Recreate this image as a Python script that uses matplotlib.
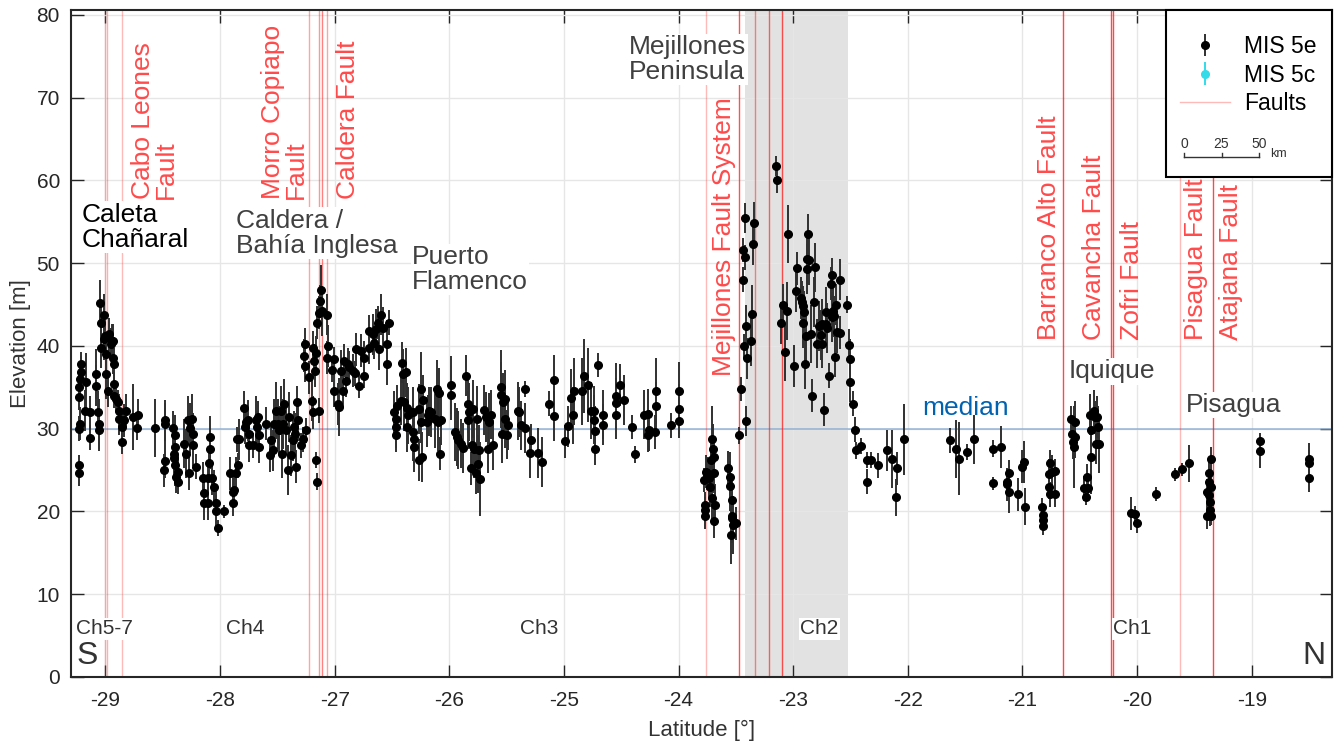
import matplotlib.pyplot as plt
from matplotlib.lines import Line2D
from matplotlib.patches import Rectangle

plt.rcParams['font.family'] = ['Liberation Sans', 'DejaVu Sans']
plt.rcParams['axes.unicode_minus'] = False

# MIS 5e terrace elevations along the coast, south to north
# Chañaral (Ch5-7)
lat_chanaral = [-29.227, -29.227, -29.218, -29.212, -29.212, -29.227, -29.218, -29.227, -29.227,
                -29.169, -29.174, -29.134, -29.134, -29.081, -29.081, -29.067, -29.058, -29.058,
                -29.044, -29.038, -29.015, -29.038, -29.015, -29.000, -28.994, -28.994, -28.980,
                -28.965, -28.951, -28.942, -28.936, -28.922, -28.936, -28.907, -28.922, -28.922,
                -28.892, -28.878, -28.878, -28.855, -28.855, -28.820, -28.834, -28.756, -28.718,
                -28.727]
elev_chanaral = [33.8, 35.0, 36.0, 37.8, 36.8, 30.0, 30.6, 25.6, 24.6,
                 35.6, 32.2, 32.0, 28.9, 36.6, 35.2, 32.0, 30.6, 29.8,
                 45.2, 42.8, 43.8, 39.8, 40.8, 41.2, 39.0, 36.6, 34.6,
                 41.4, 40.2, 40.6, 38.6, 37.8, 40.6, 33.6, 34.0, 35.4,
                 33.2, 32.2, 31.2, 30.2, 28.4, 32.2, 31.0, 31.4, 31.6,
                 30.1]
err_chanaral = [1.5, 1.5, 2.0, 1.5, 2.0, 1.5, 2.0, 1.2, 1.5,
                3.5, 2.5, 2.0, 1.5, 3.0, 2.5, 2.5, 3.0, 2.5,
                2.8, 2.5, 2.5, 2.5, 2.5, 2.0, 2.5, 3.0, 2.0,
                2.0, 2.0, 2.0, 2.0, 2.0, 2.0, 1.5, 1.5, 1.5,
                1.5, 2.0, 2.0, 2.0, 1.5, 2.0, 2.0, 4.0, 2.0,
                1.5]

# Ch4
lat_ch4 = [-28.567, -28.480, -28.480, -28.480, -28.491, -28.413, -28.390, -28.390, -28.398,
           -28.390, -28.384, -28.369, -28.369, -28.398, -28.311, -28.297, -28.282, -28.268,
           -28.262, -28.244, -28.239, -28.233, -28.210, -28.146, -28.137, -28.137, -28.108,
           -28.108, -28.099, -28.087, -28.087, -28.070, -28.050, -28.035, -28.035, -28.015,
           -27.968, -27.910, -27.890, -27.890, -27.881, -27.861, -27.846, -27.855, -27.832,
           -27.788, -27.779, -27.774, -27.759, -27.750, -27.745, -27.715, -27.686, -27.672,
           -27.681, -27.663, -27.657, -27.599, -27.564, -27.555, -27.541, -27.527, -27.512,
           -27.498, -27.483, -27.468, -27.460, -27.454, -27.439, -27.425, -27.410, -27.402,
           -27.381, -27.367, -27.352, -27.344, -27.338, -27.329, -27.323, -27.294, -27.280,
           -27.250]
elev_ch4 = [30.1, 31.0, 30.6, 26.1, 25.0, 30.1, 29.2, 27.8, 26.5,
            25.6, 24.2, 23.6, 24.8, 27.0, 28.2, 27.0, 31.0, 24.6,
            30.1, 31.2, 28.0, 29.4, 25.4, 24.0, 22.2, 21.0, 24.0,
            21.0, 25.8, 29.0, 27.6, 24.0, 23.0, 21.0, 20.0, 18.0,
            20.0, 24.6, 22.4, 21.0, 22.6, 24.6, 25.6, 28.7, 28.7,
            32.5, 30.2, 30.8, 31.0, 28.0, 29.4, 28.0, 31.0, 31.4,
            30.2, 27.8, 29.2, 30.6, 26.8, 28.6, 27.4, 30.6, 32.2,
            30.6, 29.8, 32.2, 27.0, 30.6, 33.0, 29.8, 25.0, 31.4,
            26.8, 28.6, 30.2, 29.4, 25.4, 33.2, 31.0, 28.0, 28.7,
            29.8]
err_ch4 = [3.5, 2.5, 2.5, 2.0, 2.0, 2.0, 2.5, 2.5, 2.5,
           2.5, 2.0, 1.5, 2.0, 2.5, 3.0, 3.0, 3.0, 2.0,
           3.0, 3.0, 2.5, 2.5, 1.5, 2.0, 2.0, 2.0, 2.0,
           2.0, 2.0, 2.5, 2.5, 2.0, 2.0, 1.5, 2.0, 1.0,
           0.8, 2.0, 2.0, 1.5, 2.0, 2.0, 1.5, 1.5, 2.5,
           2.0, 2.0, 2.0, 2.5, 2.0, 2.0, 1.5, 3.0, 2.0,
           2.0, 2.0, 2.0, 2.0, 2.0, 2.0, 2.5, 3.0, 3.5,
           3.0, 3.0, 3.0, 3.0, 3.0, 3.0, 3.0, 3.0, 3.0,
           2.5, 2.5, 2.0, 2.5, 2.0, 2.0, 2.5, 1.5, 1.5,
           1.5]

# Caldera / Bahía Inglesa and Puerto Flamenco
lat_caldera = [-27.256, -27.265, -27.256, -27.221, -27.198, -27.192, -27.187, -27.178, -27.169,
               -27.163, -27.157, -27.163, -27.157, -27.134, -27.134, -27.126, -27.120, -27.111,
               -27.070, -27.062, -27.070, -27.024, -27.003, -27.003, -26.974, -26.966, -26.945,
               -26.931, -26.916, -26.902, -26.887, -26.873, -26.844, -26.820, -26.815, -26.786,
               -26.771, -26.748, -26.742, -26.704, -26.704, -26.663, -26.655, -26.640, -26.626,
               -26.611, -26.597, -26.582, -26.547, -26.544, -26.530]
elev_caldera = [40.2, 38.8, 37.6, 36.2, 33.4, 32.0, 39.8, 38.2, 37.0,
                39.2, 42.8, 26.2, 23.6, 32.2, 44.0, 45.4, 46.8, 44.2,
                43.8, 40.0, 38.6, 37.1, 38.4, 34.6, 33.0, 32.6, 37.0,
                34.6, 38.2, 35.8, 37.8, 37.4, 37.0, 36.7, 39.6, 35.2,
                39.4, 38.6, 36.4, 41.8, 39.8, 41.4, 40.4, 42.0, 42.8,
                39.6, 43.8, 42.2, 40.2, 37.8, 42.8]
err_caldera = [2.0, 2.0, 2.0, 2.0, 2.5, 2.0, 2.0, 2.0, 2.0,
               2.0, 2.0, 1.0, 1.0, 1.5, 2.0, 2.0, 3.0, 3.0,
               2.5, 2.5, 2.0, 1.5, 1.5, 2.0, 2.5, 3.5, 2.5,
               2.0, 2.0, 2.0, 2.0, 2.0, 2.0, 1.5, 2.0, 1.5,
               2.0, 2.0, 1.5, 2.0, 2.0, 2.5, 2.0, 2.5, 2.0,
               2.5, 2.5, 2.5, 3.0, 2.5, 1.5]

# Ch3
lat_ch3 = [-26.481, -26.466, -26.466, -26.466, -26.452, -26.423, -26.414, -26.408, -26.394,
           -26.379, -26.365, -26.365, -26.356, -26.321, -26.315, -26.306, -26.306,
           -26.247, -26.227, -26.262, -26.247, -26.239, -26.262, -26.198, -26.189, -26.175,
           -26.160, -26.122, -26.111, -26.093, -26.102, -26.073, -26.082, -25.986, -25.986,
           -25.948, -25.937, -25.928, -25.899, -25.884, -25.855, -25.841, -25.841, -25.826,
           -25.812, -25.803, -25.791, -25.782, -25.768, -25.762, -25.753, -25.745, -25.733,
           -25.695, -25.681, -25.666, -25.652, -25.637, -25.623, -25.550, -25.550, -25.541,
           -25.535, -25.512, -25.512, -25.501, -25.492, -25.405, -25.390, -25.376, -25.338,
           -25.338, -25.288, -25.297, -25.222, -25.187, -25.134, -25.091, -25.091, -24.992,
           -24.963, -24.940, -24.925, -24.911, -24.844, -24.824, -24.794, -24.765, -24.736,
           -24.736, -24.730, -24.728, -24.699, -24.655, -24.655, -24.547, -24.547, -24.547,
           -24.507, -24.472, -24.402, -24.379, -24.300, -24.263, -24.271, -24.257, -24.205,
           -24.199, -24.193, -24.068, -23.995, -23.995, -24.000]
elev_ch3 = [32.0, 31.2, 30.2, 29.2, 32.8, 33.4, 38.0, 36.6, 33.2,
            36.8, 32.5, 30.2, 31.6, 32.0, 29.6, 28.8, 27.8,
            34.8, 33.5, 32.4, 30.8, 26.6, 26.2, 30.8, 31.6, 32.1,
            32.0, 31.2, 34.8, 34.3, 30.8, 31.0, 27.0, 35.3, 34.1,
            29.6, 29.0, 28.6, 28.2, 27.7, 36.4, 33.0, 31.0, 32.0,
            25.2, 28.0, 32.4, 27.6, 24.6, 31.2, 25.7, 27.4, 23.9,
            32.3, 31.4, 27.6, 30.8, 31.7, 28.0, 35.0, 34.1, 29.4,
            33.2, 33.6, 31.2, 29.3, 30.4, 32.1, 32.0, 30.4, 34.8,
            30.1, 28.6, 27.1, 27.1, 26.0, 33.0, 35.9, 31.5, 28.5,
            30.3, 33.7, 31.6, 34.5, 34.5, 36.4, 35.3, 32.2, 32.2,
            31.1, 29.7, 27.6, 37.7, 31.7, 30.5, 34.0, 33.1, 31.7,
            35.3, 33.5, 30.2, 26.9, 31.7, 31.8, 29.2, 29.8, 29.6,
            34.6, 32.7, 30.4, 34.6, 32.4, 30.9]
err_ch3 = [2.5, 2.0, 2.5, 2.0, 2.5, 3.0, 2.5, 3.0, 3.5,
           3.0, 3.0, 3.0, 3.5, 3.0, 3.5, 3.0, 3.0,
           4.5, 3.0, 3.0, 2.5, 3.0, 2.5, 3.0, 2.5, 3.0,
           3.0, 3.5, 3.5, 3.0, 3.5, 3.0, 2.0, 3.5, 3.0,
           3.5, 3.5, 3.5, 3.0, 3.0, 2.5, 3.5, 3.5, 3.5,
           2.0, 3.5, 3.5, 3.5, 2.5, 4.0, 3.5, 3.0, 4.5,
           3.0, 3.0, 3.0, 3.5, 3.0, 3.0, 4.5, 4.0, 3.5,
           3.5, 3.5, 3.5, 3.0, 3.0, 3.5, 3.0, 3.0, 1.0,
           3.0, 2.0, 3.0, 3.0, 3.0, 1.5, 3.0, 3.0, 2.0,
           2.5, 3.5, 3.5, 4.0, 4.0, 4.5, 4.5, 3.5, 3.0,
           3.0, 3.0, 2.0, 1.5, 3.0, 2.5, 4.0, 3.0, 3.0,
           2.5, 3.0, 1.5, 1.0, 3.0, 3.0, 2.0, 2.5, 2.0,
           4.0, 3.0, 1.5, 3.5, 3.0, 2.0]

# Mejillones Peninsula (Ch2)
lat_mejillones = [-23.777, -23.763, -23.769, -23.769, -23.769, -23.748, -23.734, -23.728, -23.719,
                  -23.710, -23.705, -23.699, -23.690, -23.690, -23.681, -23.690, -23.565, -23.551,
                  -23.553, -23.536, -23.530, -23.536, -23.542, -23.521, -23.501, -23.472, -23.452,
                  -23.437, -23.434, -23.423, -23.420, -23.428, -23.408, -23.408, -23.402, -23.370,
                  -23.362, -23.347, -23.341, -23.147, -23.144, -23.109, -23.088, -23.071, -23.051,
                  -23.042, -22.993, -22.978, -22.963, -22.934, -22.926, -22.914, -22.905, -22.914,
                  -22.897, -22.891, -22.876, -22.876, -22.868, -22.862, -22.847, -22.839, -22.818,
                  -22.812, -22.789, -22.775, -22.760, -22.751, -22.746, -22.731, -22.716, -22.711,
                  -22.702, -22.687, -22.673, -22.664, -22.658, -22.653, -22.644, -22.635, -22.629,
                  -22.615, -22.594, -22.592, -22.528, -22.513, -22.504, -22.507, -22.478, -22.464,
                  -22.455, -22.406, -22.359, -22.353]
elev_mejillones = [23.8, 24.8, 20.8, 20.2, 19.4, 24.6, 24.0, 23.0, 26.2,
                   21.6, 28.7, 27.6, 26.6, 24.7, 20.8, 18.8, 25.3, 24.2,
                   23.1, 21.4, 19.4, 19.2, 17.1, 18.4, 18.6, 29.2, 34.8,
                   48.0, 51.6, 50.7, 55.5, 40.0, 30.9, 42.4, 38.5, 40.6,
                   43.9, 52.3, 54.9, 61.7, 60.0, 42.8, 45.0, 39.3, 44.2,
                   53.5, 37.6, 46.6, 49.4, 45.8, 45.3, 44.8, 44.1, 42.8,
                   37.8, 41.2, 50.5, 49.3, 53.5, 50.4, 41.4, 34.0, 45.3,
                   49.5, 40.3, 42.4, 41.3, 40.3, 42.7, 32.3, 42.6, 44.1,
                   42.2, 36.4, 47.5, 48.6, 43.5, 44.2, 43.6, 38.7, 45.0,
                   41.7, 41.6, 48.0, 45.0, 40.1, 38.4, 35.7, 33.0, 29.9,
                   27.4, 27.9, 26.2, 23.6]
err_mejillones = [1.5, 2.0, 1.5, 1.5, 1.5, 2.0, 2.5, 2.5, 2.5,
                  3.0, 4.0, 3.0, 2.5, 2.5, 2.5, 2.0, 2.0, 3.0,
                  3.0, 3.0, 3.0, 3.0, 3.5, 3.5, 2.0, 1.0, 1.5,
                  1.5, 1.5, 1.5, 1.8, 1.5, 1.8, 2.5, 2.5, 3.0,
                  3.5, 2.5, 2.5, 1.2, 1.5, 2.5, 2.5, 3.5, 3.5,
                  3.5, 2.5, 2.5, 2.0, 2.5, 2.5, 2.5, 2.5, 3.0,
                  3.0, 3.0, 3.0, 3.0, 2.5, 3.0, 3.5, 2.0, 3.0,
                  3.0, 3.0, 3.0, 3.0, 3.0, 3.0, 2.0, 2.5, 3.0,
                  3.0, 1.5, 2.0, 2.0, 3.0, 3.0, 2.5, 2.5, 2.5,
                  2.5, 2.0, 2.5, 1.0, 2.0, 2.5, 2.5, 1.5, 1.5,
                  1.0, 1.0, 1.0, 1.5]

# Iquique and Pisagua (Ch1)
lat_north = [-22.325, -22.258, -22.180, -22.136, -22.098, -22.101, -22.034, -21.628, -21.578,
             -21.555, -21.482, -21.424, -21.259, -21.259, -21.186, -21.139, -21.134, -21.119,
             -21.119, -21.038, -21.003, -20.988, -20.979, -20.828, -20.823, -20.820, -20.820,
             -20.756, -20.770, -20.741, -20.718, -20.765, -20.756, -20.718, -20.573, -20.567,
             -20.561, -20.552, -20.538, -20.538, -20.465, -20.445, -20.436, -20.427, -20.407,
             -20.398, -20.398, -20.378, -20.369, -20.363, -20.349, -20.340, -20.334, -20.050,
             -20.021, -19.997, -19.832, -19.672, -19.608, -19.547, -19.390, -19.390, -19.375,
             -19.375, -19.370, -19.361, -19.361, -19.352, -19.352, -19.352, -18.925, -18.925,
             -18.504, -18.504, -18.504]
elev_north = [26.2, 25.6, 27.4, 26.3, 25.2, 21.7, 28.7, 28.6, 27.5,
              26.4, 27.2, 28.7, 27.6, 23.4, 27.8, 23.6, 23.3, 24.7,
              22.3, 22.1, 25.4, 26.0, 20.6, 20.6, 19.6, 19.0, 18.3,
              25.9, 24.5, 24.8, 24.9, 23.0, 22.1, 22.1, 31.2, 29.4,
              28.4, 27.8, 30.8, 29.0, 22.8, 21.8, 24.2, 22.8, 31.7,
              29.8, 26.6, 32.2, 31.4, 28.2, 31.4, 30.2, 28.2, 19.8,
              19.7, 18.6, 22.1, 24.5, 25.1, 25.8, 22.4, 19.4, 24.6,
              23.6, 22.0, 21.2, 20.2, 26.3, 23.0, 19.4, 28.5, 27.3,
              26.4, 25.8, 24.1]
err_north = [1.0, 1.5, 2.5, 3.5, 2.0, 2.2, 4.3, 1.5, 3.5,
             4.4, 1.0, 3.0, 1.0, 0.8, 2.5, 1.5, 2.0, 1.5,
             2.5, 2.0, 2.0, 2.5, 2.2, 1.0, 1.0, 1.0, 1.2,
             1.5, 1.8, 2.0, 1.5, 1.5, 1.5, 1.5, 1.5, 2.0,
             2.0, 5.0, 2.5, 2.5, 1.5, 1.0, 1.5, 1.5, 2.5,
             2.0, 4.5, 2.5, 2.0, 2.5, 2.5, 2.5, 3.5, 2.0,
             1.0, 1.2, 0.8, 0.8, 0.8, 2.2, 1.5, 1.5, 1.5,
             1.5, 1.5, 1.5, 2.0, 1.5, 1.5, 1.0, 1.0, 2.0,
             1.0, 2.5, 1.8]

# MIS 5c terraces (none in this compilation)
lat_5c = []
elev_5c = []
err_5c = []

median_elev = 30.0

faults_lat = [-29.000, -28.988, -28.855, -27.222, -27.136, -27.110, -27.069,
              -23.763, -23.473, -23.333, -23.211, -23.095,
              -20.645, -20.232, -20.209, -19.622, -19.337]
fault_alpha = [0.3, 0.35, 0.3, 0.4, 0.45, 0.55, 0.4,
               0.3, 0.75, 0.5, 0.65, 0.75,
               0.8, 0.8, 0.8, 0.3, 0.8]

fault_names = ['Cabo Leones\nFault', 'Morro Copiapo\nFault', 'Caldera Fault',
               'Mejillones Fault System', 'Barranco Alto Fault', 'Cavancha Fault',
               'Zofri Fault', 'Pisagua Fault', 'Atajana Fault']
fault_name_lat = [-28.776, -27.643, -26.989, -23.708, -20.874, -20.482, -20.145, -19.593, -19.288]
fault_name_elev = [57.8, 57.8, 57.8, 36.4, 40.7, 40.7, 40.7, 40.7, 40.7]

sites = ['Caleta\nChañaral', 'Caldera /\nBahía Inglesa', 'Puerto\nFlamenco',
         'Mejillones\nPeninsula', 'Iquique', 'Pisagua']
site_lat = [-29.209, -27.858, -26.323, -24.432, -20.596, -19.578]
site_elev = [57.3, 56.6, 52.2, 77.6, 38.4, 34.3]

segments = ['Ch5-7', 'Ch4', 'Ch3', 'Ch2', 'Ch1']
segment_lat = [-29.253, -27.779, -25.22, -22.77, -20.04]

ch2_span = (-23.423, -22.52)

lat_5e = lat_chanaral + lat_ch4 + lat_caldera + lat_ch3 + lat_mejillones + lat_north
elev_5e = elev_chanaral + elev_ch4 + elev_caldera + elev_ch3 + elev_mejillones + elev_north
err_5e = err_chanaral + err_ch4 + err_caldera + err_ch3 + err_mejillones + err_north

W, H = 1334, 744
fig = plt.figure(figsize=(W / 100, H / 100), dpi=100)
ax = fig.add_axes([71 / W, 67 / H, 1261 / W, 667 / H])


def fx(px):
    return (px - 71) / 1261


def fy(py):
    return (677 - py) / 667


ax.axvspan(ch2_span[0], ch2_span[1], color='#d6d6d6', alpha=0.7, lw=0, zorder=0.2)
ax.axhline(median_elev, color='#7fa6cf', lw=1.3, alpha=0.7, zorder=1)

for lat, a in zip(faults_lat, fault_alpha):
    ax.axvline(lat, color='#ff1a1a', lw=1.0, alpha=a, zorder=1.5)

eb5e = ax.errorbar(lat_5e, elev_5e, yerr=err_5e, fmt='o', color='black', ms=5.5,
                   ecolor='#303030', elinewidth=1.4, capsize=0, zorder=3)
eb5c = ax.errorbar(lat_5c, elev_5c, yerr=err_5c, fmt='o', color='#35dbe8', ms=5.5,
                   ecolor='#35dbe8', elinewidth=1.4, capsize=0, zorder=3)

for name, x, y in zip(fault_names, fault_name_lat, fault_name_elev):
    ax.text(x, y, name, rotation=90, ha='left', va='bottom', color='#ff4a4a',
            fontsize=19, linespacing=0.95, zorder=4)

site_colors = ['black', '#404040', '#404040', '#404040', '#404040', '#404040']
for name, x, y, c in zip(sites, site_lat, site_elev, site_colors):
    ax.text(x, y, name, ha='left', va='top', color=c, fontsize=19, linespacing=1.05,
            zorder=4, bbox=dict(facecolor='white', edgecolor='none', pad=1))

ax.text(-21.877, 33.9, 'median', ha='left', va='top', color='#0062b0', fontsize=19, zorder=4)

for name, x in zip(segments, segment_lat):
    ha = 'left' if name == 'Ch5-7' else 'center'
    ax.text(x, 5.85, name, ha=ha, va='center', color='#333333', fontsize=15, zorder=4,
            bbox=dict(facecolor='white', edgecolor='none', pad=1))

ax.text(-29.255, 0.7, 'S', ha='left', va='bottom', color='#333333', fontsize=23)
ax.text(-18.355, 0.7, 'N', ha='right', va='bottom', color='#333333', fontsize=23)

ax.set_xlim(-29.3, -18.3)
ax.set_ylim(0, 80.6)
ax.set_xticks(range(-29, -18))
ax.set_yticks(range(0, 81, 10))
ax.grid(True, color='#e6e6e6', lw=1)
ax.set_axisbelow(True)
ax.tick_params(direction='in', top=True, right=True, length=9, width=1,
               colors='#262626', labelsize=15)
ax.tick_params(axis='x', pad=10)
ax.tick_params(axis='y', pad=8)
for s in ax.spines.values():
    s.set_color('#262626')
    s.set_linewidth(1.5)
ax.set_xlabel('Latitude [°]', fontsize=16, color='#333333', labelpad=7)
ax.set_ylabel('Elevation [m]', fontsize=16, color='#333333', labelpad=4)

# legend box with scale bar
box = Rectangle((fx(1166), fy(177)), 1 - fx(1166), 1 - fy(177), transform=ax.transAxes,
                facecolor='white', edgecolor='black', lw=1.5, zorder=5, clip_on=False)
ax.add_patch(box)
fault_proxy = Line2D([], [], color='#ff1a1a', lw=1.0, alpha=0.3)
leg = ax.legend([eb5e, eb5c, fault_proxy], ['MIS 5e', 'MIS 5c', 'Faults'],
                loc='upper left', bbox_to_anchor=(fx(1180), fy(35)), frameon=False,
                fontsize=16.5, handlelength=2.2, handletextpad=0.6, labelspacing=0.25,
                borderaxespad=0, borderpad=0)
leg.set_zorder(6)

bar_y = fy(157)
x0, x1 = fx(1184), fx(1259)
ax.plot([x0, x1], [bar_y, bar_y], color='#333333', lw=1, transform=ax.transAxes,
        clip_on=False, zorder=7)
for i, lab in enumerate(['0', '25', '50']):
    xt = x0 + (x1 - x0) * i / 2
    ax.plot([xt, xt], [bar_y, bar_y + 0.006], color='#333333', lw=1,
            transform=ax.transAxes, clip_on=False, zorder=7)
    ax.text(xt, bar_y + 0.009, lab, ha='center', va='bottom', fontsize=10,
            color='#333333', transform=ax.transAxes, zorder=7)
ax.text(fx(1270), bar_y - 0.004, 'km', ha='left', va='bottom', fontsize=9,
        color='#333333', transform=ax.transAxes, zorder=7)

fig.savefig('out.png', dpi=100)
